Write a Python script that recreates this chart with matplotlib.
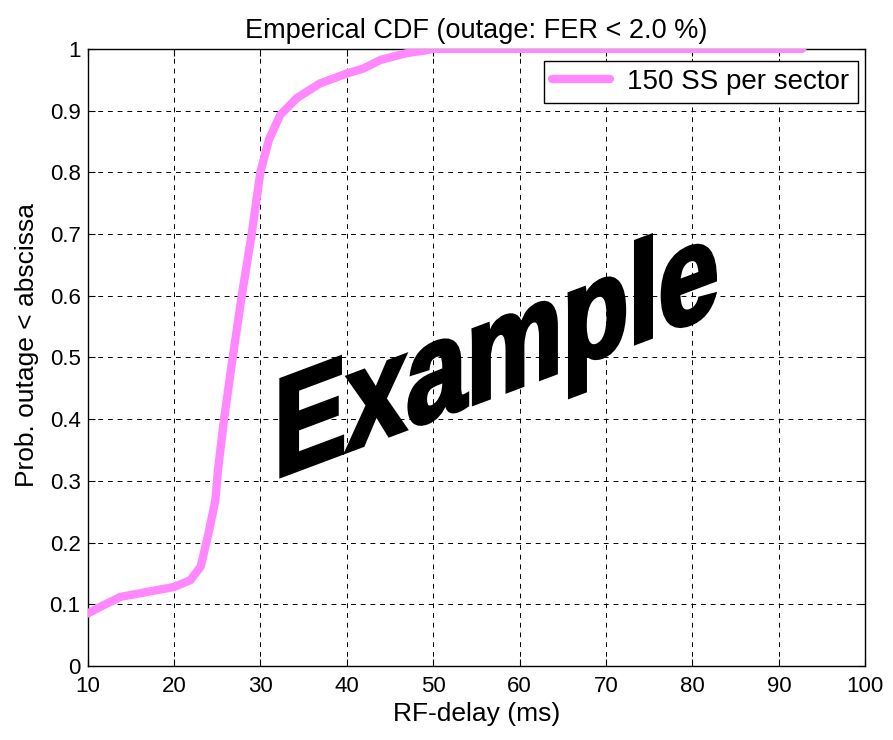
import numpy as np
import matplotlib
matplotlib.use("Agg")
import matplotlib.pyplot as plt
from matplotlib.textpath import TextPath
from matplotlib.font_manager import FontProperties
from matplotlib.path import Path
from matplotlib.patches import PathPatch

# data
delay = [10, 11.5, 13.8, 16.9, 20.0, 21.9, 23.1, 24.0, 24.8, 25.1, 25.8, 26.8,
         27.85, 29.0, 30.0, 31.0, 32.3, 34.2, 36.9, 40.0, 41.9, 43.9, 46.9,
         48.9, 50.0, 92.7]
prob = [0.085, 0.096, 0.112, 0.120, 0.128, 0.139, 0.161, 0.215, 0.269, 0.318,
        0.400, 0.500, 0.600, 0.700, 0.800, 0.853, 0.893, 0.920, 0.944, 0.960,
        0.968, 0.982, 0.993, 0.997, 1.0, 1.0]
xticks = np.arange(10, 101, 10)
yticks = np.round(np.arange(0, 1.01, 0.1), 1)

plt.rcParams['font.family'] = ['Liberation Sans', 'DejaVu Sans']

fig = plt.figure(figsize=(8.93, 7.40), dpi=100)
ax = fig.add_axes([0.098, 0.100, 0.871, 0.834])

ax.plot(delay, prob, color='#ff88ff', lw=6, solid_capstyle='round',
        label='150 SS per sector', zorder=3)

ax.set_xlim(10, 100)
ax.set_ylim(0, 1)
ax.set_xticks(xticks)
ax.set_yticks(yticks)
ax.set_xticklabels([str(v) for v in xticks])
ax.set_yticklabels(['0' if v == 0 else ('1' if v == 1 else f'{v:g}') for v in yticks])
ax.tick_params(direction='in', top=True, right=True, labelsize=16, length=5, width=0.8)
ax.tick_params(axis='x', pad=7)
ax.tick_params(axis='y', pad=5)
ax.grid(True, color='black', linestyle=(0, (5, 5)), linewidth=0.7)
for s in ax.spines.values():
    s.set_linewidth(1.0)

ax.set_title('Emperical CDF (outage: FER < 2.0 %)', fontsize=19.5, pad=8)
ax.set_xlabel('RF-delay (ms)', fontsize=19, labelpad=4)
ax.set_ylabel('Prob. outage < abscissa', fontsize=19)
ax.yaxis.set_label_coords(-0.063, 0.52)

leg = ax.legend(loc='upper right', bbox_to_anchor=(0.99, 0.981), fontsize=20,
                fancybox=False, edgecolor='black', framealpha=1,
                handlelength=2.1, handletextpad=0.6, borderaxespad=0,
                borderpad=0.3)
leg.get_frame().set_linewidth(1.0)

# sheared "Example" watermark
tp = TextPath((0, 0), 'Example', size=1,
              prop=FontProperties(family='Liberation Sans', weight='bold'))
v = tp.vertices.copy()
x0, x1 = v[:, 0].min(), v[:, 0].max()
h = v[:, 1].max()
left, right, base, cap, slope = 31.6, 82.6, 0.304, 0.164, 0.00525
nx = left + (v[:, 0] - x0) / (x1 - x0) * (right - left)
ny = base + v[:, 1] / h * cap + slope * (nx - left)
ax.add_patch(PathPatch(Path(np.column_stack([nx, ny]), tp.codes),
                       facecolor='black', edgecolor='black', lw=3,
                       joinstyle='miter', zorder=4))

fig.savefig('out.png', dpi=100)
